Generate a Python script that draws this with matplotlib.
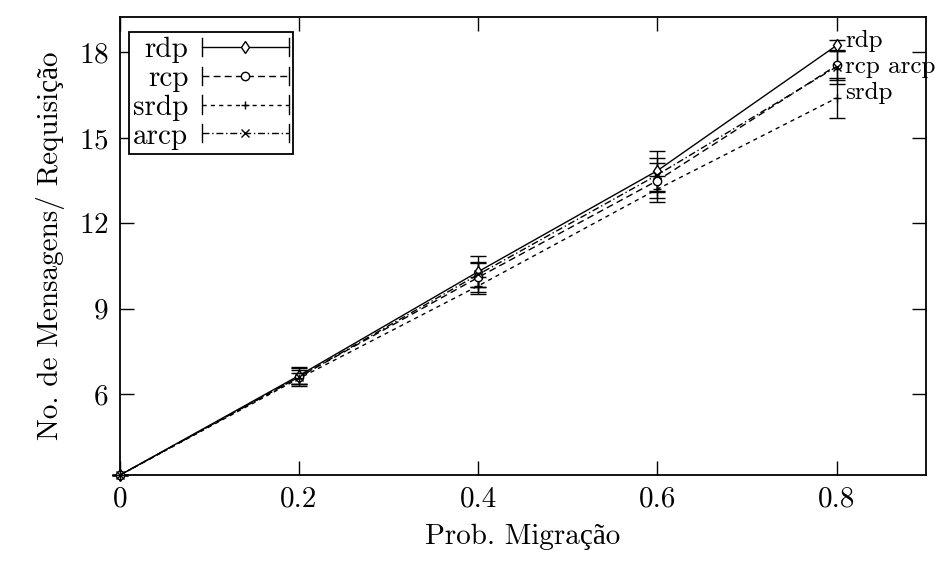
import matplotlib
matplotlib.use("Agg")
import matplotlib.pyplot as plt
from matplotlib.lines import Line2D
from matplotlib.legend_handler import HandlerLine2D

plt.rcParams["font.family"] = ["cmr10", "Liberation Serif"]
plt.rcParams["axes.formatter.use_mathtext"] = True
plt.rcParams["font.size"] = 21

# ---------------------------------------------------------------- data
prob = [0.0, 0.2, 0.4, 0.6, 0.8]
series = ["rdp", "rcp", "srdp", "arcp"]
rdp = [3.15, 6.65, 10.3, 13.85, 18.25]
rdp_err = [0.0, 0.3, 0.55, 0.7, 0.2]
rcp = [3.15, 6.6, 10.1, 13.5, 17.55]
rcp_err = [0.0, 0.25, 0.5, 0.6, 0.5]
srdp = [3.15, 6.55, 9.8, 13.2, 16.4]
srdp_err = [0.0, 0.2, 0.3, 0.45, 0.7]
arcp = [3.15, 6.6, 10.2, 13.7, 17.5]
arcp_err = [0.0, 0.3, 0.45, 0.6, 0.6]
xticks = [0.0, 0.2, 0.4, 0.6, 0.8]
xtick_labels = ["0", "0.2", "0.4", "0.6", "0.8"]
yticks = [6, 9, 12, 15, 18]
end_labels = ["rdp", "rcp arcp", "srdp"]
end_values = [18.25, 17.5, 16.4]
end_shift = [3.5, 0, 3.5]   # small nudges (points) so the labels do not collide

styles = {
    "rdp": dict(ls="-", marker="d", mfc="white"),
    "rcp": dict(ls=(0, (5, 3)), marker="o", mfc="white"),
    "srdp": dict(ls=(0, (3, 3)), marker="+", mfc="black"),
    "arcp": dict(ls=(0, (5, 2, 1, 2)), marker="x", mfc="black"),
}
values = {"rdp": (rdp, rdp_err), "rcp": (rcp, rcp_err),
          "srdp": (srdp, srdp_err), "arcp": (arcp, arcp_err)}


class CapHandler(HandlerLine2D):
    """gnuplot-like key sample: line with end bars and a marker in the middle."""

    def create_artists(self, legend, orig_handle, xdescent, ydescent,
                       width, height, fontsize, trans):
        artists = super().create_artists(legend, orig_handle, xdescent, ydescent,
                                         width, height, fontsize, trans)
        yc = height / 2.0 - ydescent
        cap = 0.45 * height
        for x in (-xdescent, width - xdescent):
            bar = Line2D([x, x], [yc - cap, yc + cap], color="black", lw=1.0)
            bar.set_transform(trans)
            artists.append(bar)
        return artists


fig = plt.figure(figsize=(9.51, 5.63), dpi=100)
ax = fig.add_axes([0.126, 0.156, 0.848, 0.814])

handles = []
for name in series:
    y, e = values[name]
    st = styles[name]
    ax.errorbar(prob, y, yerr=e, color="black", lw=1.0, ls=st["ls"],
                marker=st["marker"], ms=6, mfc=st["mfc"], mec="black", mew=1.0,
                capsize=6, elinewidth=1.0, capthick=1.0, clip_on=False, zorder=3)
    handles.append(Line2D([], [], color="black", lw=1.0, ls=st["ls"],
                          marker=st["marker"], ms=6, mfc=st["mfc"], mec="black",
                          mew=1.0))

for text, yv, dy in zip(end_labels, end_values, end_shift):
    ax.annotate(text, (prob[-1], yv), xytext=(6, dy), textcoords="offset points",
                ha="left", va="center", fontsize=18)

ax.set_xlim(0, 0.9)
ax.set_ylim(3.15, 19.25)
ax.set_xticks(xticks)
ax.set_xticklabels(xtick_labels)
ax.set_yticks(yticks)
ax.tick_params(direction="in", length=10, width=1.0, top=True, right=True, pad=8)
for sp in ax.spines.values():
    sp.set_linewidth(1.3)

ax.set_xlabel("Prob. Migração", labelpad=8)
ax.set_ylabel("No. de Mensagens/ Requisição", labelpad=10)

leg = ax.legend(handles, series, loc="upper left", bbox_to_anchor=(0.011, 0.966),
                markerfirst=False, handlelength=3.0, handletextpad=0.45,
                labelspacing=0.08, borderpad=0.15, borderaxespad=0.0,
                fancybox=False, framealpha=1, edgecolor="black",
                handler_map={Line2D: CapHandler()})
leg.get_frame().set_linewidth(1.3)

fig.savefig("out.png", dpi=100)
